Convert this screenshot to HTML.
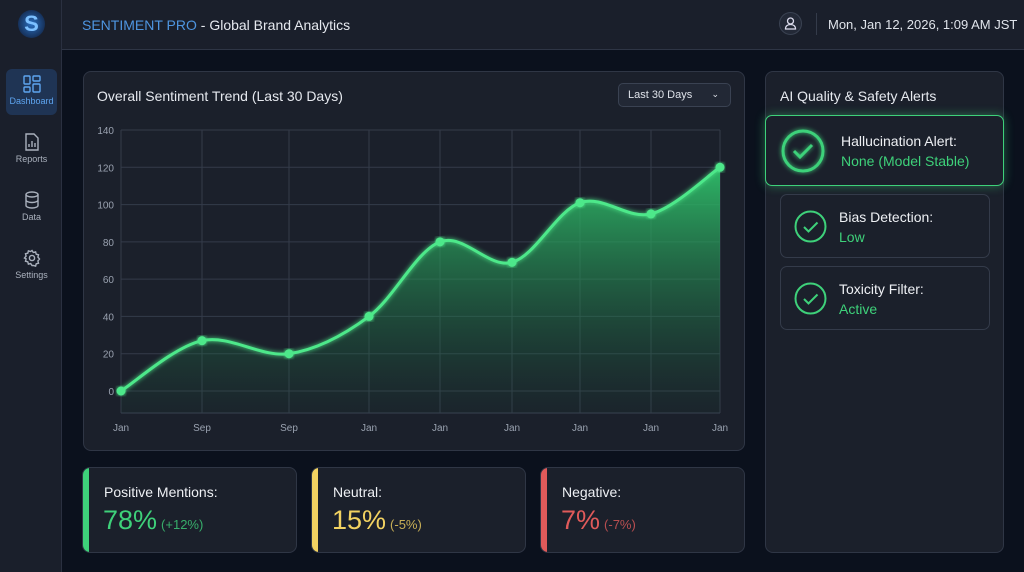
<!DOCTYPE html>
<html><head><meta charset="utf-8">
<style>
*{box-sizing:border-box;margin:0;padding:0}
body{width:1024px;height:572px;overflow:hidden;background:#0b111d;font-family:"Liberation Sans",sans-serif;color:#e6e9ef;position:relative}
.abs{position:absolute}
#sidebar{left:0;top:0;width:62px;height:572px;background:#1a1f2b;border-right:1px solid #2a3040}
#header{left:62px;top:0;width:962px;height:50px;background:#1a1f2b;border-bottom:1px solid #2e3545}
.nav{position:absolute;left:6px;width:51px;height:46px;border-radius:6px;text-align:center;font-size:9px;color:#aab1bd}
.nav svg{display:block;margin:6px auto 3px}
.card{position:absolute;background:#1b202b;border:1px solid #2f3645;border-radius:8px}
.alert{position:absolute;border:1px solid #343b4a;border-radius:7px;background:#1b202b}
.alert .t{position:absolute;font-size:14px;color:#eef0f4}
.alert .v{position:absolute;font-size:14px;color:#3ed17a}
.stat{position:absolute;top:467px;height:86px;background:#1b202b;border:1px solid #2f3645;border-radius:8px;overflow:hidden}
.stat .bar{position:absolute;left:0;top:0;width:6px;height:100%}
.stat .l{position:absolute;left:21px;top:16px;font-size:14px;color:#eef0f4}
.stat .n{position:absolute;left:20px;top:37px;font-size:27px}
.stat .n small{font-size:13px;opacity:.8;margin-left:4px}
</style></head><body>
<div id="sidebar" class="abs">
  <div class="abs" style="left:18px;top:10px;width:27px;height:28px;border-radius:50%;background:radial-gradient(#2a6fc0,#16315a 70%,transparent);color:#7cc0ff;font-size:22px;font-weight:bold;text-align:center;line-height:28px">S</div>
  <div class="nav" style="top:69px;background:#1f3454;color:#5ea5f0">
    <svg width="18" height="18" viewBox="0 0 18 18" fill="none" stroke="#5ea5f0" stroke-width="1.4"><rect x="1" y="1" width="6" height="8" rx="1"/><rect x="10" y="1" width="7" height="5" rx="1"/><rect x="1" y="12" width="6" height="5" rx="1"/><rect x="10" y="9" width="7" height="8" rx="1"/></svg>Dashboard</div>
  <div class="nav" style="top:127px">
    <svg width="16" height="18" viewBox="0 0 16 18" fill="none" stroke="#aab1bd" stroke-width="1.4"><path d="M2 1h8l4 4v12H2z"/><path d="M5 14v-3M8 14V8M11 14v-4"/></svg>Reports</div>
  <div class="nav" style="top:185px">
    <svg width="16" height="18" viewBox="0 0 16 18" fill="none" stroke="#aab1bd" stroke-width="1.4"><ellipse cx="8" cy="3.5" rx="6" ry="2.5"/><path d="M2 3.5v11c0 1.4 2.7 2.5 6 2.5s6-1.1 6-2.5v-11M2 9c0 1.4 2.7 2.5 6 2.5S14 10.4 14 9"/></svg>Data</div>
  <div class="nav" style="top:243px">
    <svg width="18" height="18" viewBox="0 0 18 18" fill="none" stroke="#aab1bd" stroke-width="1.4"><circle cx="9" cy="9" r="2.6"/><path d="M9 1.5l1.3 2 2.3-.6.6 2.3 2.3.6-.6 2.3 1.6 1.9-1.6 1.9.6 2.3-2.3.6-.6 2.3-2.3-.6L9 16.5l-1.3-2-2.3.6-.6-2.3-2.3-.6.6-2.3L1.5 9l1.6-1.9-.6-2.3 2.3-.6.6-2.3 2.3.6z"/></svg>Settings</div>
</div>
<div id="header" class="abs">
  <div class="abs" style="left:20px;top:17px;font-size:14px"><span style="color:#4e95e0">SENTIMENT PRO</span> - Global Brand Analytics</div>
  <div class="abs" style="left:717px;top:12px;width:23px;height:23px;border-radius:50%;border:1px solid #3a4252;background:#232937">
    <svg width="21" height="21" viewBox="0 0 21 21" fill="none" stroke="#dde" stroke-width="1.3"><circle cx="10.5" cy="8" r="3"/><path d="M5.5 16c0-3 2.2-4.5 5-4.5s5 1.5 5 4.5z"/></svg></div>
  <div class="abs" style="left:754px;top:13px;width:1px;height:22px;background:#343b4a"></div>
  <div class="abs" style="left:766px;top:17px;font-size:13px;color:#dfe3ea">Mon, Jan 12, 2026, 1:09 AM JST</div>
</div>

<div class="card" style="left:83px;top:71px;width:662px;height:380px">
  <div class="abs" style="left:13px;top:16px;font-size:14px">Overall Sentiment Trend (Last 30 Days)</div>
  <div class="abs" style="left:534px;top:11px;width:113px;height:24px;border:1px solid #3a4252;border-radius:5px;background:#222835;font-size:11px;line-height:22px;padding-left:9px;color:#dfe3ea">Last 30 Days<span style="position:absolute;right:11px;top:-1px;font-size:9px">&#8964;</span></div>
</div>
<svg id="chart" class="abs" style="left:0;top:0" width="1024" height="572">
  <defs>
    <linearGradient id="fillg" x1="0" y1="0" x2="0" y2="1"><stop offset="0" stop-color="#2fbf6a" stop-opacity="0.95"/><stop offset="1" stop-color="#1a5a3a" stop-opacity="0.08"/></linearGradient>
    <filter id="glow" x="-10%" y="-10%" width="120%" height="120%"><feGaussianBlur stdDeviation="2.5" result="b"/><feMerge><feMergeNode in="b"/><feMergeNode in="SourceGraphic"/></feMerge></filter>
  </defs>
  <g id="grid"></g><g id="area"></g><g id="line"></g><g id="pts"></g><g id="labels"></g>
</svg>

<div class="card" style="left:765px;top:71px;width:239px;height:482px">
  <div class="abs" style="left:14px;top:16px;font-size:14px">AI Quality &amp; Safety Alerts</div>
</div>
<div class="alert" style="left:765px;top:115px;width:239px;height:71px;border:1.5px solid #3ed17a;box-shadow:0 0 10px rgba(62,209,122,.45)">
  <svg class="abs" style="left:14px;top:12px" width="46" height="46" viewBox="0 0 46 46" fill="none" stroke="#3ed17a" stroke-width="3" filter="url(#glow)"><circle cx="23" cy="23" r="20"/><path d="M14 23l6 6 12-12"/></svg>
  <div class="t" style="left:75px;top:17px">Hallucination Alert:</div>
  <div class="v" style="left:75px;top:37px">None (Model Stable)</div>
</div>
<div class="alert" style="left:780px;top:194px;width:210px;height:64px">
  <svg class="abs" style="left:13px;top:15px" width="33" height="33" viewBox="0 0 33 33" fill="none" stroke="#3ed17a" stroke-width="2"><circle cx="16.5" cy="16.5" r="15"/><path d="M10 17l4.5 4.5 9-9"/></svg>
  <div class="t" style="left:58px;top:14px">Bias Detection:</div>
  <div class="v" style="left:58px;top:34px">Low</div>
</div>
<div class="alert" style="left:780px;top:266px;width:210px;height:64px">
  <svg class="abs" style="left:13px;top:15px" width="33" height="33" viewBox="0 0 33 33" fill="none" stroke="#3ed17a" stroke-width="2"><circle cx="16.5" cy="16.5" r="15"/><path d="M10 17l4.5 4.5 9-9"/></svg>
  <div class="t" style="left:58px;top:14px">Toxicity Filter:</div>
  <div class="v" style="left:58px;top:34px">Active</div>
</div>

<div class="stat" style="left:82px;width:215px"><div class="bar" style="background:#3ed17a"></div><div class="l">Positive Mentions:</div><div class="n" style="color:#3ed17a">78%<small>(+12%)</small></div></div>
<div class="stat" style="left:311px;width:215px"><div class="bar" style="background:#f2d261"></div><div class="l">Neutral:</div><div class="n" style="color:#f2d261">15%<small>(-5%)</small></div></div>
<div class="stat" style="left:540px;width:205px"><div class="bar" style="background:#e05a5a"></div><div class="l">Negative:</div><div class="n" style="color:#e05a5a">7%<small>(-7%)</small></div></div>

<script>
const categories = ["Jan","Sep","Sep","Jan","Jan","Jan","Jan","Jan","Jan"];
const dayOffsets = [0, 81, 168, 248, 319, 391, 459, 530, 599];
const sentiment = [0, 27, 20, 40, 80, 69, 101, 95, 120];
const yTicks = [0, 20, 40, 60, 80, 100, 120, 140];

const X0=121, X1=720, Y0=391, Y140=130, YB=413;
const xMax = dayOffsets[dayOffsets.length-1];
const xs = d => X0 + (d/xMax)*(X1-X0);
const ys = v => Y0 - (v/140)*(Y0-Y140);
const NS="http://www.w3.org/2000/svg";
function mk(tag, attrs, parent){const e=document.createElementNS(NS,tag);for(const k in attrs)e.setAttribute(k,attrs[k]);document.getElementById(parent).appendChild(e);return e;}

yTicks.forEach(t=>{
  const l=mk('line',{x1:X0,x2:X1,y1:ys(t),y2:ys(t),stroke:'#343b4a','stroke-width':1},'grid');
  
  
  const tx=mk('text',{x:X0-7,y:ys(t)+4,'text-anchor':'end','font-size':10,fill:'#9aa2b0','font-family':'Liberation Sans, sans-serif'},'labels');
  tx.textContent=t;
  
  
});
mk('line',{x1:X0,x2:X1,y1:YB,y2:YB,stroke:'#3a4252'},'grid');
dayOffsets.forEach((d,i)=>{
  const l=mk('line',{x1:xs(d),x2:xs(d),y1:Y140,y2:YB,stroke:'#343b4a'},'grid');
  
  
  const tx=mk('text',{x:xs(d),y:431,'text-anchor':'middle','font-size':10,fill:'#9aa2b0','font-family':'Liberation Sans, sans-serif'},'labels');
  tx.textContent=categories[i];
  
  
});
const P=dayOffsets.map((d,i)=>[xs(d),ys(sentiment[i])]);
let path=`M${P[0][0]},${P[0][1]}`;
for(let i=0;i<P.length-1;i++){
  const p0=P[i-1]||P[i],p1=P[i],p2=P[i+1],p3=P[i+2]||p2;
  const c1=[p1[0]+(p2[0]-p0[0])/6,p1[1]+(p2[1]-p0[1])/6];
  const c2=[p2[0]-(p3[0]-p1[0])/6,p2[1]-(p3[1]-p1[1])/6];
  path+=` C${c1[0]},${c1[1]} ${c2[0]},${c2[1]} ${p2[0]},${p2[1]}`;
}
const a=mk('path',{d:path+` L${P[P.length-1][0]},${YB} L${P[0][0]},${YB} Z`,fill:'url(#fillg)'},'area');


const ln=mk('path',{d:path,fill:'none',stroke:'#4ee88a','stroke-width':3,filter:'url(#glow)'},'line');


P.forEach(p=>{
  const c=mk('circle',{cx:p[0],cy:p[1],r:4.5,fill:'#4ee88a',filter:'url(#glow)'},'pts');
  
  
});
</script>
</body></html>
